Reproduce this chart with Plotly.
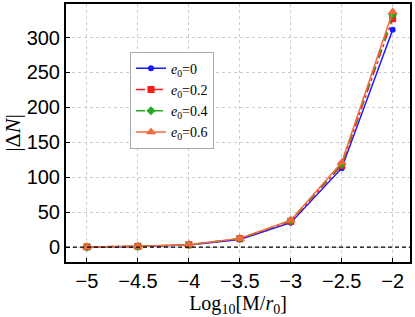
import plotly.graph_objects as go

x_vals = [-5, -4.5, -4, -3.5, -3, -2.5, -2]
dn_e0_0 = [0.3, 1.0, 3.0, 11.0, 35.0, 113.0, 311.0]
dn_e0_02 = [0.3, 1.1, 3.3, 12.0, 37.0, 117.0, 327.0]
dn_e0_04 = [0.3, 1.1, 3.4, 12.3, 38.0, 119.0, 333.0]
dn_e0_06 = [0.3, 1.2, 3.5, 12.5, 38.5, 121.0, 337.0]
series_names = ["<i>e</i><sub>0</sub>=0", "<i>e</i><sub>0</sub>=0.2",
                "<i>e</i><sub>0</sub>=0.4", "<i>e</i><sub>0</sub>=0.6"]
x_ticks = [-5, -4.5, -4, -3.5, -3, -2.5, -2]
x_tick_labels = ["\u22125", "\u22124.5", "\u22124", "\u22123.5", "\u22123", "\u22122.5", "\u22122"]
y_ticks = [0, 50, 100, 150, 200, 250, 300]

styles = [
    dict(color="#1a1aff", dash="solid", symbol="circle", size=6),
    dict(color="#ff1a1a", dash="dashdot", symbol="square", size=7),
    dict(color="#22aa22", dash="dash", symbol="diamond", size=7),
    dict(color="#f26a3c", dash="solid", symbol="triangle-up", size=9),
]
data = [dn_e0_0, dn_e0_02, dn_e0_04, dn_e0_06]

fig = go.Figure()
for name, ys, st in zip(series_names, data, styles):
    fig.add_trace(go.Scatter(
        x=x_vals, y=ys, name=name, mode="lines+markers",
        line=dict(color=st["color"], dash=st["dash"], width=1.5),
        marker=dict(color=st["color"], symbol=st["symbol"], size=st["size"]),
    ))

fig.add_hline(y=0, line=dict(color="black", dash="4px,3px", width=1.2))

fig.update_layout(
    width=415, height=317,
    margin=dict(l=66, r=5, t=2, b=55),
    paper_bgcolor="white", plot_bgcolor="white",
    showlegend=True,
    legend=dict(x=0.186, y=0.815, xanchor="left", yanchor="top",
                bgcolor="white", bordercolor="#aaaaaa", borderwidth=1,
                font=dict(family="Liberation Serif", size=14, color="black"),
                tracegroupgap=0, itemwidth=30),
)
fig.update_xaxes(
    range=[-5.206, -1.83], tickvals=x_ticks, ticktext=x_tick_labels,
    showgrid=True, gridcolor="#cccccc", griddash="dot", gridwidth=1,
    showline=True, linecolor="black", linewidth=2, mirror=True,
    ticks="inside", ticklen=4, tickcolor="black",
    tickfont=dict(family="Liberation Sans", size=20, color="black"),
    title=dict(text="Log<sub>10</sub>[M/<i>r</i><sub>0</sub>]", standoff=4,
               font=dict(family="Liberation Serif", size=20, color="black")),
    zeroline=False,
)
fig.update_yaxes(
    range=[-21.3, 348], tickvals=y_ticks,
    showgrid=True, gridcolor="#cccccc", griddash="dot", gridwidth=1,
    showline=True, linecolor="black", linewidth=2, mirror=True,
    ticks="inside", ticklen=4, tickcolor="black",
    tickfont=dict(family="Liberation Sans", size=20, color="black"),
    title=dict(text="|\u0394<i>N</i>|", standoff=2,
               font=dict(family="Liberation Serif", size=22, color="black")),
    zeroline=False,
)

fig.write_html("out.html", config={"displayModeBar": False},
               post_script="document.body.style.margin='0';document.body.style.overflow='hidden';")
